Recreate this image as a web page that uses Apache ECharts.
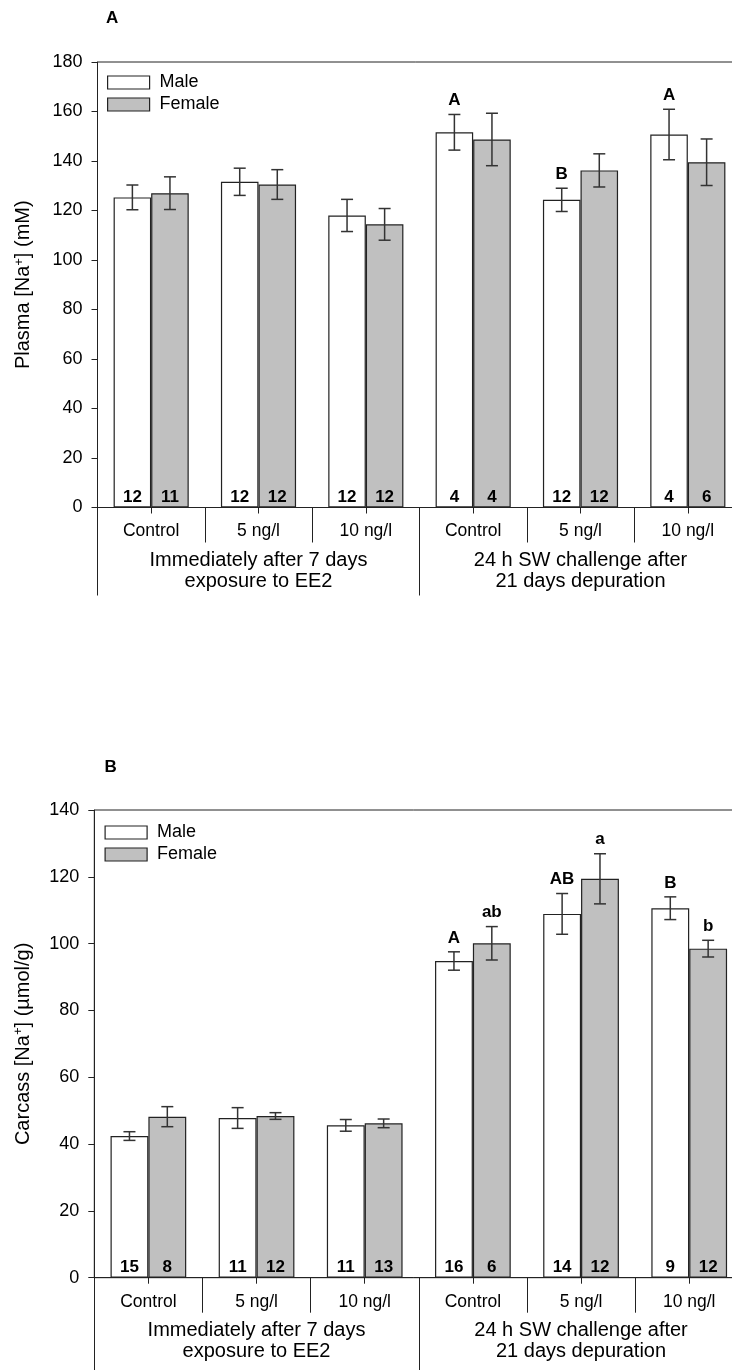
<!DOCTYPE html>
<html>
<head>
<meta charset="utf-8">
<script src="https://cdn.jsdelivr.net/npm/echarts@6/dist/echarts.min.js"></script>
<style>
html,body{margin:0;padding:0;background:#fff;}
#c{width:732px;height:1370px;}
</style>
</head>
<body>
<div id="c"></div>
<script>
// ---- data ----
const categories = ['Control', '5 ng/l', '10 ng/l', 'Control', '5 ng/l', '10 ng/l'];
const groups = ['Immediately after 7 days\nexposure to EE2', '24 h SW challenge after\n21 days depuration'];

// Panel A: plasma Na+ (mM)
const plasmaMale = [125.3, 131.6, 118.0, 151.6, 124.3, 150.7];
const plasmaMaleErr = [5.0, 5.5, 6.5, 7.2, 4.7, 10.2];
const plasmaFemale = [127.0, 130.5, 114.4, 148.7, 136.2, 139.5];
const plasmaFemaleErr = [6.6, 6.0, 6.4, 10.6, 6.7, 9.4];
const plasmaNMale = [12, 12, 12, 4, 12, 4];
const plasmaNFemale = [11, 12, 12, 4, 12, 6];
const plasmaLetterMale = ['', '', '', 'A', 'B', 'A'];
const plasmaLetterFemale = ['', '', '', '', '', ''];
const plasmaTicks = [0, 20, 40, 60, 80, 100, 120, 140, 160, 180];

// Panel B: carcass Na+ (umol/g)
const carcassMale = [42.4, 47.8, 45.6, 94.8, 108.9, 110.6];
const carcassMaleErr = [1.3, 3.1, 1.75, 2.75, 6.1, 3.4];
const carcassFemale = [48.2, 48.4, 46.2, 100.1, 119.4, 98.5];
const carcassFemaleErr = [3.0, 1.0, 1.3, 5.0, 7.5, 2.5];
const carcassNMale = [15, 11, 11, 16, 14, 9];
const carcassNFemale = [8, 12, 13, 6, 12, 12];
const carcassLetterMale = ['', '', '', 'A', 'AB', 'B'];
const carcassLetterFemale = ['', '', '', 'ab', 'a', 'b'];
const carcassTicks = [0, 20, 40, 60, 80, 100, 120, 140];

// ---- chart ----
const FONT = 'Liberation Sans, Arial, sans-serif';
const FS = 18;      // tick labels, legend
const FSC = 17.5;   // category labels
const FSG = 20;     // group labels, axis titles
const FSB = 17;     // bold annotations
const AX = '#222';
const chart = echarts.init(document.getElementById('c'), null, {renderer: 'canvas'});

const grids = [
  {left: 97.5, top: 62, width: 644, height: 445.5},
  {left: 94.3, top: 810, width: 649, height: 467.7}
];

function xAxesFor(gi, groupTickLen) {
  return [
    { // main category axis with labels and centre ticks
      type: 'category', gridIndex: gi, data: categories, position: 'bottom',
      axisLine: {show: true, lineStyle: {color: AX, width: 1}},
      axisTick: {show: true, alignWithLabel: true, length: 6, lineStyle: {color: AX}},
      axisLabel: {show: true, interval: 0, margin: 15, fontFamily: FONT, fontSize: FSC, color: '#000'},
      splitLine: {show: false}
    },
    { // category separators
      type: 'category', gridIndex: gi, data: categories, position: 'bottom',
      axisLine: {show: false},
      axisTick: {show: true, interval: 0, length: 35, lineStyle: {color: AX}},
      axisLabel: {show: false}, splitLine: {show: false}
    },
    { // group axis
      type: 'category', gridIndex: gi, data: groups, position: 'bottom',
      axisLine: {show: false},
      axisTick: {show: true, interval: 0, length: groupTickLen, lineStyle: {color: AX}},
      axisLabel: {show: true, interval: 0, margin: 42, lineHeight: 21, fontFamily: FONT, fontSize: FSG, color: '#000'},
      splitLine: {show: false}
    }
  ];
}

function yAxisFor(gi, ticks, nameText, gap) {
  return {
    type: 'value', gridIndex: gi, min: ticks[0], max: ticks[ticks.length - 1], interval: ticks[1] - ticks[0],
    axisLine: {show: true, lineStyle: {color: AX, width: 1}},
    axisTick: {show: true, inside: false, length: 6, lineStyle: {color: AX}},
    axisLabel: {margin: 15, fontFamily: FONT, fontSize: FS, color: '#000'},
    splitLine: {show: false},
    name: nameText, nameLocation: 'middle', nameRotate: 90, nameGap: gap,
    nameTextStyle: {
      fontFamily: FONT, fontSize: FSG, color: '#000', lineHeight: 22,
      rich: {sup: {fontFamily: FONT, fontSize: 13, color: '#000', verticalAlign: 'top', lineHeight: 22}}
    }
  };
}

function barSeries(name, gi, values, ns, fill) {
  return {
    type: 'bar', name: name, xAxisIndex: gi * 3, yAxisIndex: gi, data: values,
    barGap: '0%', barCategoryGap: '30%',
    itemStyle: {color: fill, borderColor: AX, borderWidth: 1.2},
    label: {show: true, position: 'insideBottom', distance: 2,
      formatter: p => String(ns[p.dataIndex]),
      fontFamily: FONT, fontSize: FSB, fontWeight: 'bold', color: '#000'},
    emphasis: {disabled: true}, silent: true
  };
}

function errSeries(gi, values, errs, letters, sign) {
  return {
    type: 'custom', xAxisIndex: gi * 3, yAxisIndex: gi, z: 5, silent: true,
    data: values.map((v, i) => [i, v, errs[i]]),
    renderItem: function (params, api) {
      const idx = api.value(0), mean = api.value(1), err = api.value(2);
      const c = api.coord([idx, mean]);
      const bw = api.size([1, 0])[0] * 0.35;
      const x = c[0] + sign * bw / 2;
      const yt = api.coord([idx, mean + err])[1];
      const yb = api.coord([idx, mean - err])[1];
      const cap = 6;
      const ls = {stroke: '#333', lineWidth: 1.5};
      const children = [
        {type: 'line', shape: {x1: x, y1: yt, x2: x, y2: yb}, style: ls},
        {type: 'line', shape: {x1: x - cap, y1: yt, x2: x + cap, y2: yt}, style: ls},
        {type: 'line', shape: {x1: x - cap, y1: yb, x2: x + cap, y2: yb}, style: ls}
      ];
      const L = letters[params.dataIndex];
      if (L) {
        children.push({type: 'text', x: x, y: yt - 14,
          style: {text: L, fill: '#000', font: 'bold ' + FSB + 'px ' + FONT, align: 'center', verticalAlign: 'middle'}});
      }
      return {type: 'group', children: children};
    }
  };
}

function legendFor(top, left) {
  return {
    show: true, orient: 'vertical', left: left, top: top, padding: 0,
    itemWidth: 42, itemHeight: 13, itemGap: 4, icon: 'rect',
    data: ['Male', 'Female'],
    itemStyle: {borderColor: AX, borderWidth: 1.2},
    textStyle: {fontFamily: FONT, fontSize: FS, color: '#000', padding: [0, 0, 0, 5]},
    selectedMode: false
  };
}

const option = {
  animation: false,
  backgroundColor: '#fff',
  title: [
    {text: 'A', left: 106, top: 9.5, padding: 0, textStyle: {fontFamily: FONT, fontSize: FSB, fontWeight: 'bold', color: '#000'}},
    {text: 'B', left: 104.5, top: 758.5, padding: 0, textStyle: {fontFamily: FONT, fontSize: FSB, fontWeight: 'bold', color: '#000'}}
  ],
  legend: [legendFor(73.5, 107), legendFor(823.5, 104.5)],
  grid: grids.map(g => Object.assign({show: true, borderColor: AX, borderWidth: 1, backgroundColor: 'transparent', outerBoundsMode: 'none', containLabel: false}, g)),
  xAxis: [].concat(xAxesFor(0, 88), xAxesFor(1, 95)),
  yAxis: [
    yAxisFor(0, plasmaTicks, 'Plasma [Na{sup|+}] (mM)', 63),
    yAxisFor(1, carcassTicks, 'Carcass [Na{sup|+}] (\u00b5mol/g)', 60)
  ],
  series: [
    barSeries('Male', 0, plasmaMale, plasmaNMale, '#ffffff'),
    barSeries('Female', 0, plasmaFemale, plasmaNFemale, '#c0c0c0'),
    errSeries(0, plasmaMale, plasmaMaleErr, plasmaLetterMale, -1),
    errSeries(0, plasmaFemale, plasmaFemaleErr, plasmaLetterFemale, 1),
    barSeries('Male', 1, carcassMale, carcassNMale, '#ffffff'),
    barSeries('Female', 1, carcassFemale, carcassNFemale, '#c0c0c0'),
    errSeries(1, carcassMale, carcassMaleErr, carcassLetterMale, -1),
    errSeries(1, carcassFemale, carcassFemaleErr, carcassLetterFemale, 1)
  ]
};
chart.setOption(option);
</script>
</body>
</html>
